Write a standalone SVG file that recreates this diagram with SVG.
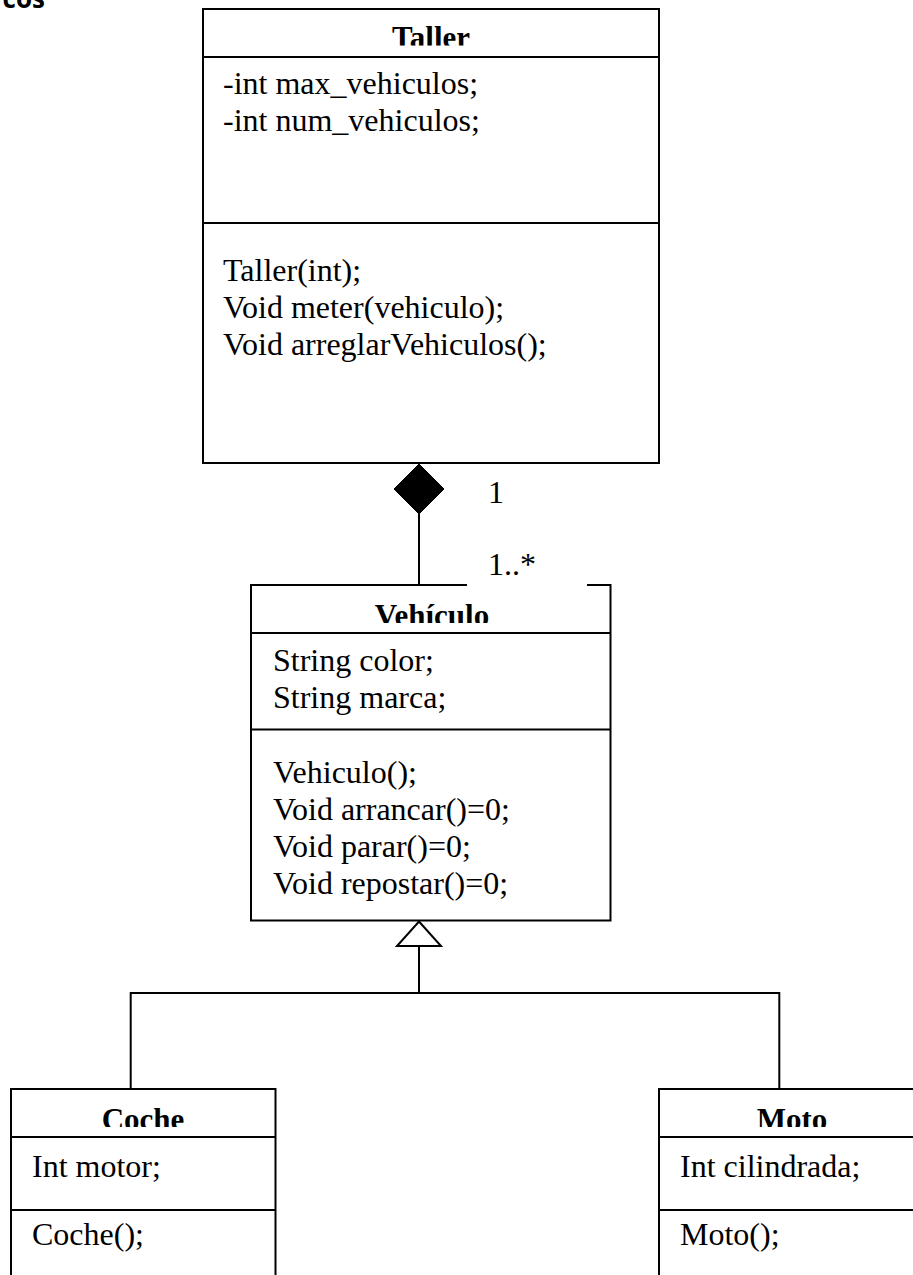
<svg xmlns="http://www.w3.org/2000/svg" width="913" height="1275" viewBox="0 0 913 1275">
<style>
.box{fill:#fff;stroke:#000;stroke-width:2}
.ln{fill:none;stroke:#000;stroke-width:2}
.t{font-family:"Liberation Serif","Times New Roman",serif;font-size:32px;fill:#000}
.h{font-family:"Liberation Serif","Times New Roman",serif;font-size:31px;font-weight:bold;fill:#000;text-anchor:middle}
</style>
<defs>
<clipPath id="cT"><rect x="203" y="9" width="456" height="36.5"/></clipPath>
<clipPath id="cV"><rect x="251" y="585" width="360" height="38"/></clipPath>
<clipPath id="cC"><rect x="11" y="1089" width="265" height="38"/></clipPath>
<clipPath id="cM"><rect x="659" y="1089" width="265" height="38"/></clipPath>
</defs>
<rect width="913" height="1275" fill="#fff"/>
<text x="45" y="8" text-anchor="end" font-family="'Open Sans','Liberation Sans',sans-serif" font-weight="bold" font-size="26">cos</text>
<g id="taller">
<rect class="box" x="203" y="9" width="456" height="454"/>
<line class="ln" x1="203" y1="57" x2="659" y2="57"/>
<line class="ln" x1="203" y1="223" x2="659" y2="223"/>
<text class="h" x="431" y="48" clip-path="url(#cT)">Taller</text>
<text class="t" x="223" y="94">-int max_vehiculos;</text>
<text class="t" x="223" y="131">-int num_vehiculos;</text>
<text class="t" x="223" y="281">Taller(int);</text>
<text class="t" x="223" y="318">Void meter(vehiculo);</text>
<text class="t" x="223" y="355">Void arreglarVehiculos();</text>
</g>
<g id="vehiculo">
<rect class="box" x="251" y="585" width="359.5" height="335.5"/>
<line class="ln" x1="251" y1="633" x2="610.5" y2="633"/>
<line class="ln" x1="251" y1="729.5" x2="610.5" y2="729.5"/>
<text class="h" x="432" y="626" clip-path="url(#cV)">Vehículo</text>
<text class="t" x="273" y="671">String color;</text>
<text class="t" x="273" y="708">String marca;</text>
<text class="t" x="273" y="783">Vehiculo();</text>
<text class="t" x="273" y="820">Void arrancar()=0;</text>
<text class="t" x="273" y="857">Void parar()=0;</text>
<text class="t" x="273" y="894">Void repostar()=0;</text>
</g>
<g id="coche">
<path class="ln" d="M11,1276 V1089 H275.5 V1276"/>
<line class="ln" x1="11" y1="1137" x2="275.5" y2="1137"/>
<line class="ln" x1="11" y1="1210" x2="275.5" y2="1210"/>
<text class="h" x="143" y="1130" clip-path="url(#cC)">Coche</text>
<text class="t" x="32" y="1177">Int motor;</text>
<text class="t" x="32" y="1245">Coche();</text>
</g>
<g id="moto">
<path class="ln" d="M659,1276 V1089 H924"/>
<line class="ln" x1="659" y1="1137" x2="924" y2="1137"/>
<line class="ln" x1="659" y1="1210" x2="924" y2="1210"/>
<text class="h" x="792" y="1130" clip-path="url(#cM)">Moto</text>
<text class="t" x="680" y="1177">Int cilindrada;</text>
<text class="t" x="680" y="1245">Moto();</text>
</g>
<g id="connectors">
<polygon points="419,464 444,489 419,514 394,489" fill="#000" stroke="#000" stroke-width="1"/>
<line class="ln" x1="419" y1="514" x2="419" y2="585"/>
<text class="t" x="488" y="503">1</text>
<rect x="467" y="552" width="120" height="34.5" fill="#fff"/>
<text class="t" x="488" y="575">1..*</text>
<polygon class="ln" points="419,921.5 441,946 397,946" fill="#fff"/>
<line class="ln" x1="419" y1="946" x2="419" y2="993"/>
<line class="ln" x1="130.7" y1="993" x2="779.3" y2="993"/>
<line class="ln" x1="130.7" y1="992" x2="130.7" y2="1089"/>
<line class="ln" x1="779.3" y1="992" x2="779.3" y2="1089"/>
</g>
</svg>
